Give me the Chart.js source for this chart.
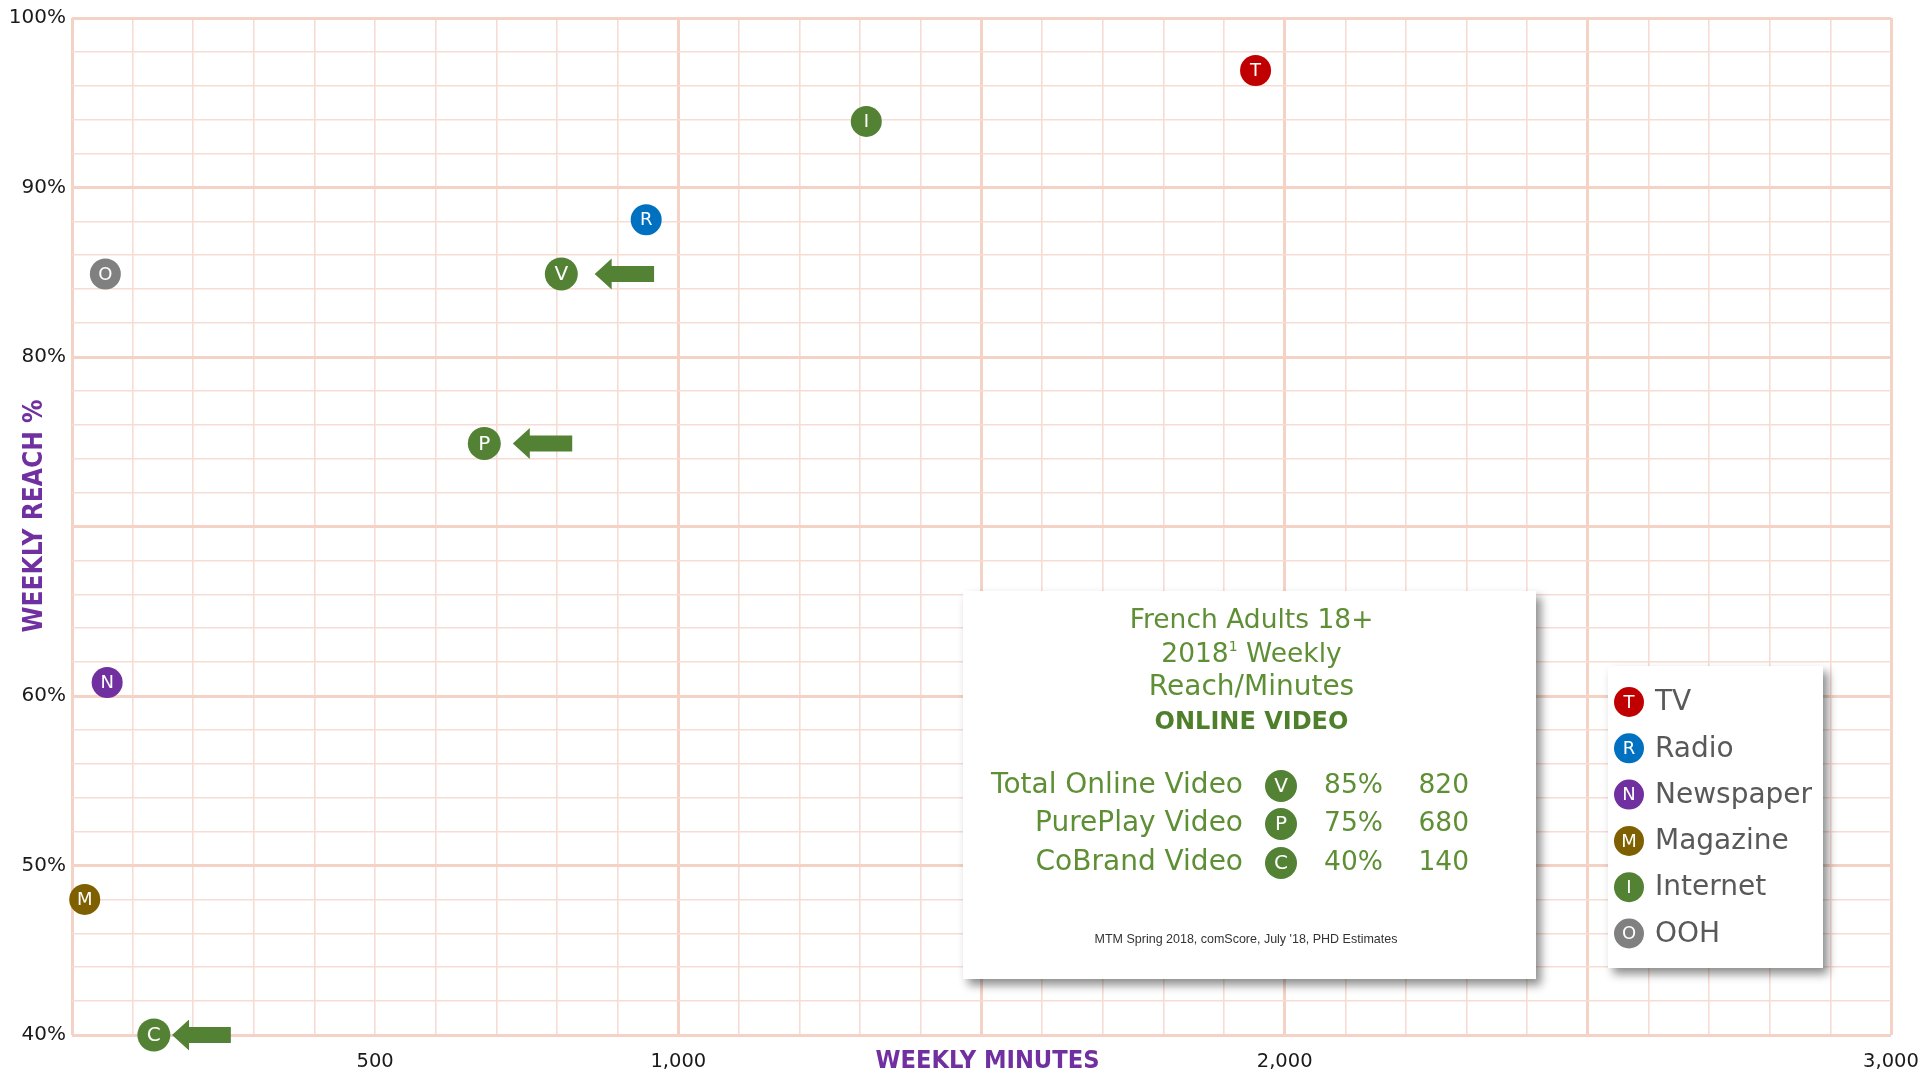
<!DOCTYPE html>
<html><head><meta charset="utf-8">
<script src="https://cdn.jsdelivr.net/npm/chart.js@4.4.0/dist/chart.umd.min.js"></script>
<style>html,body{margin:0;padding:0;background:#fff;overflow:hidden}canvas{display:block}</style>
</head><body>
<canvas id="c" width="1926" height="1074"></canvas>
<script>
// ---------- data ----------
const mediaNames = ['TV', 'Radio', 'Newspaper', 'Magazine', 'Internet', 'OOH'];
const mediaLetters = ['T', 'R', 'N', 'M', 'I', 'O'];
const mediaMinutes = [1952, 947, 58, 21, 1310, 55];
const mediaReach = [96.9, 88.1, 60.8, 48.0, 93.9, 84.9];

const videoNames = ['Total Online Video', 'PurePlay Video', 'CoBrand Video'];
const videoLetters = ['V', 'P', 'C'];
const videoPlotMinutes = [807, 680, 135];
const videoPlotReach = [84.9, 74.9, 40];
const videoTableReach = ['85%', '75%', '40%'];
const videoTableMinutes = ['820', '680', '140'];

const arrowTipMinutes = [862, 727, 165];
const arrowTailMinutes = [960, 825, 262];
const arrowReach = [84.9, 74.9, 40];

const xTickLabels = [500, 1000, 2000, 3000];
const yTickLabels = [40, 50, 60, 80, 90, 100];

const boxTitleLines = ['French Adults 18+', '2018', 'Reach/Minutes', 'ONLINE VIDEO'];
const footnote = "MTM Spring 2018, comScore, July '18, PHD Estimates";
const xTitle = 'WEEKLY MINUTES';
const yTitle = 'WEEKLY REACH %';

// ---------- styles ----------
const mediaColors = ['#C00000', '#0070C0', '#7030A0', '#7F6000', '#548235', '#808080'];
const videoColor = '#548235';
const GRID_MINOR = '#F7DCD3';
const GRID_MAJOR = '#F4D2C5';
const TXT = "'DejaVu Sans', sans-serif";
const NARROW = "'Liberation Sans Narrow', 'DejaVu Sans Condensed', sans-serif";

const allLetters = mediaLetters.concat(videoLetters);
const points = mediaMinutes.map((m, i) => ({x: m, y: mediaReach[i]}))
  .concat(videoPlotMinutes.map((m, i) => ({x: m, y: videoPlotReach[i]})));
const pointColors = mediaColors.concat(videoLetters.map(() => videoColor));
const pointRadii = mediaLetters.map(() => 15.5).concat(videoLetters.map(() => 16.5));

function fitSize(ctx, text, weight, family, targetW) {
  ctx.font = weight + ' 100px ' + family;
  return 100 * targetW / ctx.measureText(text).width;
}

function badge(ctx, x, y, r, color, letter, fs) {
  ctx.beginPath();
  ctx.arc(x, y, r, 0, Math.PI * 2);
  ctx.fillStyle = color;
  ctx.fill();
  ctx.fillStyle = '#ffffff';
  ctx.font = fs + 'px ' + TXT;
  ctx.textAlign = 'center';
  ctx.textBaseline = 'middle';
  ctx.fillText(letter, x, y + 1);
}

function shadowBox(ctx, x, y, w, h) {
  ctx.save();
  ctx.shadowColor = 'rgba(0,0,0,0.45)';
  ctx.shadowBlur = 9;
  ctx.shadowOffsetX = 5;
  ctx.shadowOffsetY = 6;
  ctx.fillStyle = '#ffffff';
  ctx.fillRect(x, y, w, h);
  ctx.restore();
}

const overlay = {
  id: 'overlay',
  afterDatasetsDraw(chart) {
    const ctx = chart.ctx;
    const xs = chart.scales.x, ys = chart.scales.y;
    ctx.save();
    // arrows
    ctx.fillStyle = videoColor;
    arrowTipMinutes.forEach((tip, i) => {
      const xt = xs.getPixelForValue(tip);
      const xe = xs.getPixelForValue(arrowTailMinutes[i]);
      const yc = ys.getPixelForValue(arrowReach[i]);
      const hl = 17, hh = 15.5, sh = 8;
      ctx.beginPath();
      ctx.moveTo(xt, yc);
      ctx.lineTo(xt + hl, yc - hh);
      ctx.lineTo(xt + hl, yc - sh);
      ctx.lineTo(xe, yc - sh);
      ctx.lineTo(xe, yc + sh);
      ctx.lineTo(xt + hl, yc + sh);
      ctx.lineTo(xt + hl, yc + hh);
      ctx.closePath();
      ctx.fill();
    });
    // letters on points
    const meta = chart.getDatasetMeta(0);
    ctx.fillStyle = '#ffffff';
    ctx.textAlign = 'center';
    ctx.textBaseline = 'middle';
    meta.data.forEach((el, i) => {
      ctx.font = (i >= mediaLetters.length ? 20 : 18) + 'px ' + TXT;
      ctx.fillText(allLetters[i], el.x, el.y + 1);
    });
    ctx.restore();
  },
  afterDraw(chart) {
    const ctx = chart.ctx;
    const xs = chart.scales.x;
    ctx.save();
    // axis titles
    ctx.fillStyle = '#7030A0';
    let s = fitSize(ctx, xTitle, 'bold', NARROW, 224);
    ctx.font = 'bold ' + s + 'px ' + NARROW;
    ctx.textAlign = 'center';
    ctx.textBaseline = 'middle';
    ctx.fillText(xTitle, xs.getPixelForValue(1510), 1061);
    s = fitSize(ctx, yTitle, 'bold', NARROW, 233);
    ctx.save();
    ctx.translate(35, 516);
    ctx.rotate(-Math.PI / 2);
    ctx.font = 'bold ' + s + 'px ' + NARROW;
    ctx.fillText(yTitle, 0, 0);
    ctx.restore();

    // info box
    const bx = 963, by = 591, bw = 573, bh = 388;
    shadowBox(ctx, bx, by, bw, bh);
    const cx = bx + bw / 2 + 2;
    ctx.fillStyle = '#5E8F35';
    ctx.textAlign = 'center';
    ctx.textBaseline = 'middle';
    ctx.font = '26.5px ' + TXT;
    ctx.fillText(boxTitleLines[0], cx, 621);
    // 2018 superscript 1 Weekly
    const a = boxTitleLines[1], b = ' Weekly';
    const wa = ctx.measureText(a).width, wb = ctx.measureText(b).width;
    ctx.font = '14px ' + TXT;
    const wsup = ctx.measureText('1').width;
    let sx = cx - (wa + wsup + wb) / 2;
    ctx.textAlign = 'left';
    ctx.font = '26.5px ' + TXT;
    ctx.fillText(a, sx, 655);
    ctx.font = '14px ' + TXT;
    ctx.fillText('1', sx + wa, 647);
    ctx.font = '26.5px ' + TXT;
    ctx.fillText(b, sx + wa + wsup, 655);
    ctx.textAlign = 'center';
    ctx.font = '28px ' + TXT;
    ctx.fillText(boxTitleLines[2], cx, 688);
    ctx.fillStyle = '#4F7F2A';
    ctx.font = 'bold 24px ' + TXT;
    ctx.fillText(boxTitleLines[3], cx, 723);

    const rowY = [786, 824, 863];
    videoNames.forEach((n, i) => {
      ctx.fillStyle = '#5E8F35';
      ctx.font = '28px ' + TXT;
      ctx.textAlign = 'right';
      ctx.textBaseline = 'middle';
      ctx.fillText(n, 1243, rowY[i]);
      ctx.font = '26.5px ' + TXT;
      ctx.fillText(videoTableReach[i], 1383, rowY[i]);
      ctx.fillText(videoTableMinutes[i], 1469, rowY[i]);
      badge(ctx, 1281, rowY[i], 16, videoColor, videoLetters[i], 20);
    });
    ctx.fillStyle = '#333333';
    s = fitSize(ctx, footnote, 'normal', "'Liberation Sans', sans-serif", 303);
    ctx.font = s + 'px ' + "'Liberation Sans', sans-serif";
    ctx.textAlign = 'center';
    ctx.fillText(footnote, 1246, 940);

    // legend box
    const lx = 1608, ly = 666, lw = 215, lh = 302;
    shadowBox(ctx, lx, ly, lw, lh);
    mediaNames.forEach((n, i) => {
      const yy = 702 + i * 46.3;
      badge(ctx, 1629, yy, 15, mediaColors[i], mediaLetters[i], 18);
      ctx.fillStyle = '#595959';
      ctx.font = '28px ' + TXT;
      ctx.textAlign = 'left';
      ctx.textBaseline = 'middle';
      ctx.fillText(n, 1655, yy + 1);
    });
    ctx.restore();
  }
};

const fmt = v => v.toLocaleString('en-US');

new Chart(document.getElementById('c'), {
  type: 'scatter',
  data: {
    datasets: [{
      data: points,
      pointBackgroundColor: pointColors,
      pointBorderWidth: 0,
      pointRadius: pointRadii,
      pointHoverRadius: pointRadii,
      clip: false
    }]
  },
  options: {
    responsive: false,
    animation: false,
    devicePixelRatio: 1,
    layout: {padding: {top: 18, right: 35, left: 0, bottom: 0}},
    plugins: {legend: {display: false}, tooltip: {enabled: false}},
    scales: {
      x: {
        type: 'linear', min: 0, max: 3000,
        afterFit: sc => { sc.height = 39; sc.paddingRight = 0; sc.paddingLeft = 0; },
        border: {display: false},
        grid: {
          drawTicks: false,
          color: c => (c.tick.value % 500 === 0 && c.tick.value !== 500) ? GRID_MAJOR : GRID_MINOR,
          lineWidth: c => (c.tick.value % 500 === 0 && c.tick.value !== 500) ? 3 : 1.6
        },
        ticks: {
          stepSize: 100, autoSkip: false, maxRotation: 0, padding: 15,
          color: '#1a1a1a', font: {family: TXT, size: 19.5},
          callback: v => xTickLabels.includes(v) ? fmt(v) : ''
        }
      },
      y: {
        type: 'linear', min: 40, max: 100,
        afterFit: sc => { sc.width = 72; sc.paddingTop = 0; sc.paddingBottom = 0; },
        border: {display: false},
        grid: {
          drawTicks: false,
          color: c => (c.tick.value % 10 === 0) ? GRID_MAJOR : GRID_MINOR,
          lineWidth: c => (c.tick.value % 10 === 0) ? 3 : 1.6
        },
        ticks: {
          stepSize: 2, autoSkip: false, padding: 6,
          color: '#1a1a1a', font: {family: TXT, size: 20},
          callback: v => yTickLabels.includes(v) ? v + '%' : ''
        }
      }
    }
  },
  plugins: [overlay]
});
</script>
</body></html>
